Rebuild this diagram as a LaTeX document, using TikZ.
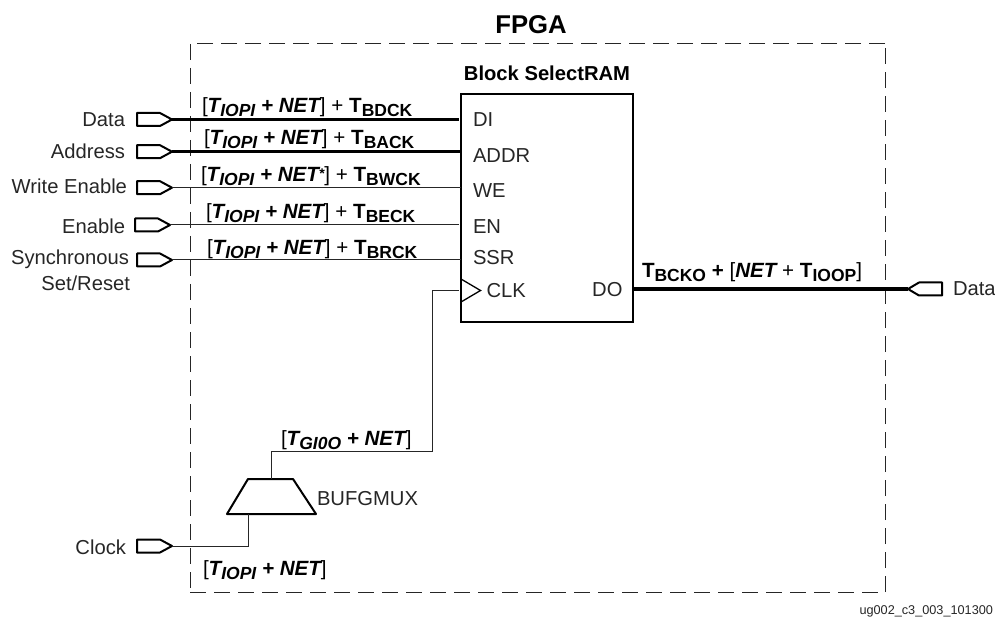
\documentclass[tikz,border=0pt]{standalone}
\usepackage{fontspec}
\setmainfont{Liberation Sans}
\newcommand{\fsz}[1]{\fontsize{#1}{#1}\selectfont}
\newcommand{\subt}[1]{\raisebox{-4pt}{\fsz{17.5}#1}}
\newcommand{\Tb}[1]{{\bfseries T\subt{#1}}}
\newcommand{\Ti}[1]{{\bfseries\itshape T\subt{#1}}}
\newcommand{\bi}[1]{{\bfseries\itshape #1}}
\newcommand{\inlab}[3]{[\Ti{#1}\bi{ + #2}] + \Tb{#3}}
\tikzset{
  x=1pt,y=-1pt,
  every node/.style={inner sep=0pt,outer sep=0pt,font=\fsz{20.2},text=black!85},
  lab/.style={anchor=base west},
  rlab/.style={anchor=base east},
  tlab/.style={anchor=base west,font=\fsz{20.6},text=black},
  thin wire/.style={line width=1pt,draw=black!85},
  thick wire/.style={line width=3.2pt,draw=black},
  pinline/.style={line width=2pt,draw=black,line join=round},
  frame/.style={line width=1pt,draw=black!85,dash pattern=on 16pt off 8pt},
}
\newcommand{\inpin}[1]{\draw[pinline] (#1) -- ++(-12,-6.5) -- ++(-23,0) -- ++(0,13) -- ++(23,0) -- cycle;}
\begin{document}
\begin{tikzpicture}
\useasboundingbox (0,0) rectangle (995,617);
\draw[frame] (190,592) -- (885,592);
\draw[frame] (885,44) -- (190,44);
\draw[frame] (885,592) -- (885,44);
\draw[frame] (190,44) -- (190,592);
\node[draw=black,line width=2.2pt,fill=none,minimum width=172pt,minimum height=228pt] (ram) at (547,208) {};
% pins
\coordinate (pd) at (172,119.5);
\coordinate (pa) at (172,151.7);
\coordinate (pw) at (172,187.7);
\coordinate (pe) at (170,225);
\coordinate (ps) at (172,260);
\coordinate (pc) at (172,546);
\coordinate (po) at (908,289);
\coordinate (ck) at (459,291);
\coordinate (gd) at (458.5,119.5);
\coordinate (ge) at (458.5,225);
\foreach \p in {pd,pa,pw,pe,ps,pc}{\inpin{\p}}
\draw[pinline] (po) -- ++(11,-6.5) -- ++(23,0) -- ++(0,13) -- ++(-23,0) -- cycle;
% wires
\draw[thick wire] (pd) -- (gd);
\draw[thick wire] (pa) -- (ram.west |- pa);
\draw[thin wire] (pw) -- (ram.west |- pw);
\draw[thin wire] (pe) -- (ge);
\draw[thin wire] (ps) -- (ram.west |- ps);
\draw[thick wire] (ram.east |- po) -- (po);
% clock triangle
\draw[line width=1.3pt,draw=black,line join=miter] (461,279) -- (480.5,290.5) -- (461,302);
% mux
\coordinate (mt) at (271,479);
\coordinate (mb) at (248,514);
\draw[pinline] (248,479) -- (293,479) -- (316,514) -- (227,514) -- cycle;
\draw[thin wire] (mt) -- (271,451) -- (432.5,451) -- (432.5,291) -- (ck);
\draw[thin wire] (pc) -- (248,546) -- (mb);
% pin labels
\node[rlab] (l1) at (125,127) {Data};
\node[rlab] (l2) at (125,159) {Address};
\node[rlab] (l3) at (127,193.7) {Write Enable};
\node[rlab] (l4) at (125,233.6) {Enable};
\node[rlab] (l5) at (129,265) {Synchronous};
\node[rlab] (l6) at (130,291) {Set/Reset};
\node[rlab] (l7) at (126,554) {Clock};
\node[lab] (l8) at (953,296) {Data};
% timing labels
\node[tlab] (t1) at (202,113) {\inlab{IOPI}{NET}{BDCK}};
\node[tlab] (t2) at (204,145) {\inlab{IOPI}{NET}{BACK}};
\node[tlab] (t3) at (201,182) {[\Ti{IOPI}\bi{ + NET}{\bfseries\itshape\fsz{14}\raisebox{3pt}{*}}] + \Tb{BWCK}};
\node[tlab] (t4) at (206,219) {\inlab{IOPI}{NET}{BECK}};
\node[tlab] (t5) at (207,255) {\inlab{IOPI}{NET}{BRCK}};
\node[tlab] (t6) at (642,277.5) {\Tb{BCKO}{\bfseries{} + }[\bi{NET} + \Tb{IOOP}]};
\node[tlab] (t7) at (281,445) {[\Ti{GI0O}\bi{ + NET}]};
\node[tlab] (t8) at (203,575) {[\Ti{IOPI}\bi{ + NET}]};
% block labels
\node[lab] (r1) at (473,126.5) {DI};
\node[lab] (r2) at (473,163) {ADDR};
\node[lab] (r3) at (473,198) {WE};
\node[lab] (r4) at (473,234) {EN};
\node[lab] (r5) at (473,265) {SSR};
\node[lab] (r6) at (486.5,298) {CLK};
\node[rlab] (r7) at (622.5,296.5) {DO};
\node[lab] (m1) at (317,505) {BUFGMUX};
% titles
\node[anchor=base,font=\fsz{25.7}\bfseries,text=black] (title) at (531,34) {FPGA};
\node[anchor=base,font=\fsz{20.2}\bfseries,text=black] (brm) at (547,81) {Block SelectRAM};
\node[anchor=base east,font=\fsz{12.7}] (foot) at (993,614) {ug002\_c3\_003\_101300};
\end{tikzpicture}
\end{document}
